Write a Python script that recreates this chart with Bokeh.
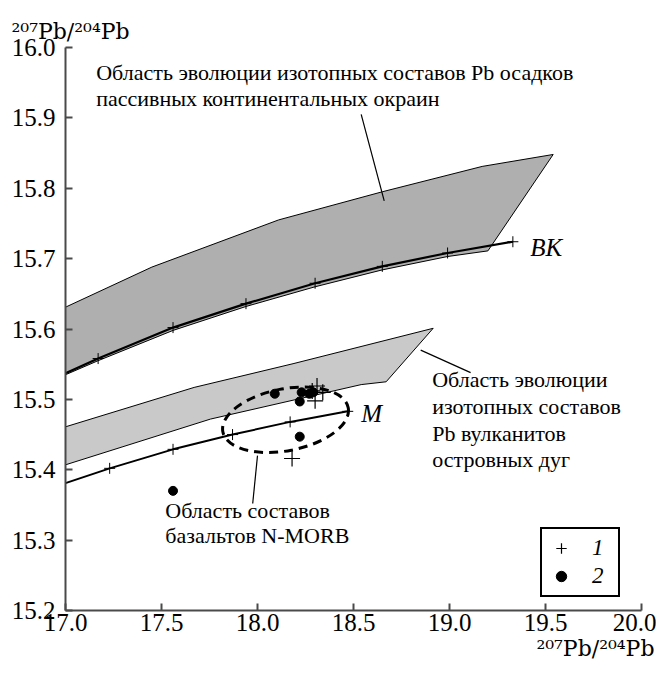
from bokeh.plotting import figure
from bokeh.models import (Range1d, FixedTicker, NumeralTickFormatter, Title,
                          Legend, LegendItem)
from bokeh.core.properties import value
from bokeh.embed import file_html
from bokeh.resources import INLINE

FONT = "Liberation Serif"
TITLE_FONT = "DejaVu Serif"

# ---------------- data ----------------
x_ticks = [17.0, 17.5, 18.0, 18.5, 19.0, 19.5, 20.0]
y_ticks = [15.2, 15.3, 15.4, 15.5, 15.6, 15.7, 15.8, 15.9, 16.0]
x_title = "²⁰⁷Pb/²⁰⁴Pb"
y_title = "²⁰⁷Pb/²⁰⁴Pb"

# evolution curve BK (upper crust)
bk_x = [17.0, 17.17, 17.56, 17.94, 18.30, 18.65, 18.99, 19.33]
bk_y = [15.537, 15.558, 15.602, 15.636, 15.665, 15.689, 15.708, 15.724]
# evolution curve M (mantle)
m_x = [17.0, 17.23, 17.56, 17.87, 18.17, 18.47]
m_y = [15.381, 15.402, 15.429, 15.450, 15.468, 15.483]

# field: passive continental margin sediments
sed_x = [17.0, 17.45, 18.11, 18.65, 19.17, 19.54, 19.20, 18.99, 18.65, 18.30, 17.94, 17.56, 17.17, 17.0]
sed_y = [15.631, 15.688, 15.755, 15.795, 15.831, 15.848, 15.711, 15.703, 15.684, 15.660, 15.632, 15.598, 15.555, 15.535]
# field: island arc volcanics
arc_x = [17.0, 17.67, 18.19, 18.915, 18.67, 18.54, 17.755, 17.0]
arc_y = [15.461, 15.517, 15.551, 15.601, 15.525, 15.521, 15.472, 15.407]

# samples
s1_x = [18.31, 18.34, 18.285, 18.30, 18.18]
s1_y = [15.519, 15.510, 15.512, 15.498, 15.416]
s2_x = [18.09, 18.23, 18.27, 18.29, 18.22, 18.22, 17.56]
s2_y = [15.508, 15.510, 15.508, 15.510, 15.497, 15.447, 15.370]

# N-MORB field (ellipse): center x, center y, width, height, angle
morb = dict(x=[18.146], y=[15.471], w=[0.665], h=[0.088], a=[0.19])

# annotations
txt_sed = ["Область эволюции изотопных составов Pb осадков",
           "пассивных континентальных окраин"]
txt_sed_x = [17.16, 17.16]
txt_sed_y = [15.965, 15.927]
txt_arc = ["Область эволюции", "изотопных составов", "Pb вулканитов", "островных дуг"]
txt_arc_x = [18.91, 18.91, 18.91, 18.91]
txt_arc_y = [15.528, 15.490, 15.452, 15.414]
txt_morb = ["Область составов", "базальтов N-MORB"]
txt_morb_x = [17.52, 17.52]
txt_morb_y = [15.342, 15.306]
curve_lbl = ["BK", "M"]
curve_lbl_x = [19.42, 18.54]
curve_lbl_y = [15.716, 15.480]

lead_x0 = [18.54, 18.85, 18.00]
lead_y0 = [15.905, 15.570, 15.420]
lead_x1 = [18.66, 19.11, 17.975]
lead_y1 = [15.782, 15.538, 15.352]

# ---------------- figure ----------------
p = figure(width=656, height=668, x_range=Range1d(17.0, 20.0), y_range=Range1d(15.2, 16.0),
           output_backend="svg", toolbar_location=None,
           min_border_left=65, min_border_right=15, min_border_top=47, min_border_bottom=58)
p.outline_line_color = None
p.xgrid.visible = False
p.ygrid.visible = False
p.background_fill_color = "white"
p.border_fill_color = "white"

for ax in (p.xaxis[0], p.yaxis[0]):
    ax.axis_line_width = 2
    ax.axis_line_color = "#4a4a4a"
    ax.major_tick_line_color = "#4a4a4a"
    ax.major_tick_line_width = 2
    ax.major_tick_in = 7
    ax.major_tick_out = 0
    ax.minor_tick_in = 0
    ax.minor_tick_out = 0
    ax.major_label_text_font = FONT
    ax.major_label_text_font_size = "25px"
    ax.major_label_text_color = "black"
    ax.formatter = NumeralTickFormatter(format="0.0")
p.xaxis.ticker = FixedTicker(ticks=x_ticks)
p.yaxis.ticker = FixedTicker(ticks=y_ticks)
p.xaxis.major_label_standoff = 3
p.yaxis.major_label_standoff = 10

# axis titles (as panel titles, so they are not clipped)
p.add_layout(Title(text=y_title, align="left", offset=-54, standoff=8, text_font=TITLE_FONT,
                   text_font_size="22px", text_font_style="normal", text_color="black"), "above")
p.add_layout(Title(text=x_title, align="right", offset=-13, standoff=0, text_font=TITLE_FONT,
                   text_font_size="22px", text_font_style="normal", text_color="black"), "below")

# fields
p.patch(sed_x, sed_y, fill_color="#afafaf", line_color="black", line_width=1)
p.patch(arc_x, arc_y, fill_color="#c8c9c8", line_color="black", line_width=1)

# curves
p.line(bk_x, bk_y, line_color="black", line_width=2.2)
p.scatter(bk_x[1:], bk_y[1:], marker="cross", size=11, line_color="black", line_width=1)
p.line(m_x, m_y, line_color="black", line_width=2)
p.scatter(m_x[1:], m_y[1:], marker="cross", size=11, line_color="black", line_width=1)

# N-MORB ellipse
p.ellipse(x=morb["x"], y=morb["y"], width=morb["w"], height=morb["h"], angle=morb["a"],
          fill_color=None, line_color="black", line_width=3, line_dash="9 6")

# leader lines
p.segment(x0=lead_x0, y0=lead_y0, x1=lead_x1, y1=lead_y1, line_color="black", line_width=1.2)

# samples
r1 = p.scatter(s1_x, s1_y, marker="cross", size=16, line_color="black", line_width=1.2)
r2 = p.scatter(s2_x, s2_y, marker="circle", size=9, fill_color="black", line_color="black")

# texts
for xs, ys, ts in ((txt_sed_x, txt_sed_y, txt_sed), (txt_arc_x, txt_arc_y, txt_arc),
                   (txt_morb_x, txt_morb_y, txt_morb)):
    p.text(x=xs, y=ys, text=ts, text_font=value(FONT), text_font_size=value("22px"),
           text_baseline="middle", text_align="left", text_color="black")
p.text(x=curve_lbl_x, y=curve_lbl_y, text=curve_lbl, text_font=value(FONT),
       text_font_size=value("25px"), text_font_style="italic", text_baseline="middle",
       text_align="left", text_color="black")

# legend
legend = Legend(items=[LegendItem(label="1", renderers=[r1]), LegendItem(label="2", renderers=[r2])],
                location=(475, 13), label_text_font=FONT, label_text_font_style="italic",
                label_text_font_size="23px", label_text_color="black",
                border_line_color="black", border_line_width=2, border_line_alpha=1.0,
                glyph_width=26, glyph_height=26, label_standoff=18, padding=6, spacing=2,
                background_fill_color="white", background_fill_alpha=1.0, margin=0)
p.add_layout(legend)

open("out.html", "w").write(file_html(p, INLINE))
